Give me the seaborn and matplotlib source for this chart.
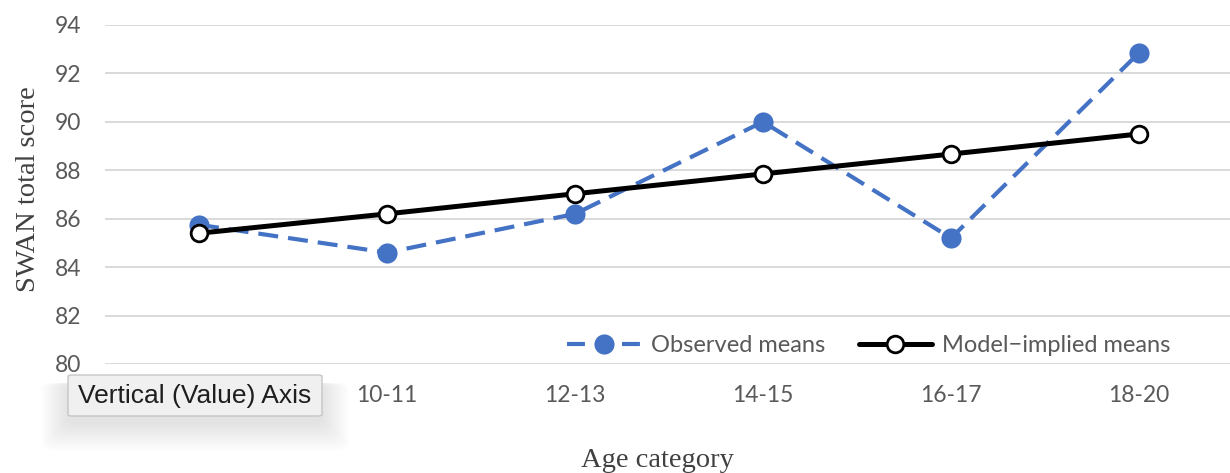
import matplotlib
matplotlib.use("Agg")
import matplotlib.pyplot as plt
from matplotlib.patches import FancyBboxPatch
import seaborn as sns
import pandas as pd

# Mean SWAN total score by age category
age_categories = ["8-9", "10-11", "12-13", "14-15", "16-17", "18-20"]
observed_means = [85.75, 84.6, 86.2, 90.0, 85.2, 92.85]
model_implied_means = [85.4, 86.2, 87.03, 87.85, 88.67, 89.5]
y_ticks = [80, 82, 84, 86, 88, 90, 92, 94]

df = pd.DataFrame({
    "age": age_categories,
    "observed": observed_means,
    "model": model_implied_means,
})

sns.set_theme(style="white")
plt.rcParams["font.family"] = ["Lato", "DejaVu Sans"]

W, H = 1230, 473
fig = plt.figure(figsize=(W / 100, H / 100), dpi=100)
ax = fig.add_axes([105 / W, 1 - 364 / H, 1128 / W, 339 / H])

blue = "#4472C4"
sns.lineplot(data=df, x="age", y="observed", ax=ax, sort=False,
             color=blue, linewidth=3.0, linestyle=(0, (4.8, 2.4)),
             marker="o", markersize=14.5, markeredgewidth=0,
             markerfacecolor=blue, label="Observed means", zorder=3)
sns.lineplot(data=df, x="age", y="model", ax=ax, sort=False,
             color="black", linewidth=3.6,
             marker="o", markersize=12, markeredgewidth=2.0,
             markerfacecolor="white", markeredgecolor="black",
             label="Model\u2212implied means", zorder=4)

ax.set_xlim(-0.5, len(age_categories) - 0.5)
ax.set_ylim(80, 94)
ax.set_yticks(y_ticks)
ax.yaxis.grid(True, color="#d9d9d9", linewidth=1.4)
ax.xaxis.grid(False)
for s in ax.spines.values():
    s.set_visible(False)
ax.tick_params(axis="both", length=0, labelsize=16.5, labelcolor="#595959")
ax.tick_params(axis="y", pad=17)
ax.tick_params(axis="x", pad=15)

ax.set_xlabel("Age category", family="Liberation Serif", fontsize=20.5,
              color="#404040", va="center")
ax.xaxis.set_label_coords(0.49, (364 - 460) / 339)
ax.set_ylabel("SWAN total score", family="Liberation Serif", fontsize=20.5,
              color="#404040", va="center")
ax.yaxis.set_label_coords((28 - 105) / 1128, 0.515)

leg_fs = 17
leg = ax.legend(loc="center right", bbox_to_anchor=(1192 / W, 1 - 346 / H),
                bbox_transform=fig.transFigure, ncol=2, frameon=False,
                fontsize=leg_fs, handlelength=3.1, columnspacing=1.4,
                handletextpad=0.45)
for t in leg.get_texts():
    t.set_color("#595959")
# dash – marker – dash in the observed-means key
leg.get_lines()[0].set_linestyle((0, (4.3, 8.9)))

# Hover tooltip over the value axis, with a soft drop shadow
x0, y0, w, h = 68 / W, 1 - 416 / H, 254 / W, 41 / H
for i in range(14):
    d = 1 + i * 2.0
    shadow = FancyBboxPatch((x0 - d / W, y0 - (d + 8) / H),
                            w + 2 * d / W, h + d / H,
                            boxstyle="round,pad=0,rounding_size=0.012",
                            transform=fig.transFigure, facecolor="black",
                            edgecolor="none", alpha=0.007, zorder=8)
    fig.patches.append(shadow)
box = FancyBboxPatch((x0, y0), w, h, boxstyle="round,pad=0,rounding_size=0.003",
                     transform=fig.transFigure, facecolor="#f0f0f0",
                     edgecolor="#c6c6c6", linewidth=1.0, zorder=9)
fig.patches.append(box)
fig.text(x0 + w / 2, y0 + h / 2 - 1 / H, "Vertical (Value) Axis", ha="center",
         va="center", fontsize=19, family="Liberation Sans", color="#1e1e1e",
         zorder=10)

fig.savefig("out.png", dpi=100)
